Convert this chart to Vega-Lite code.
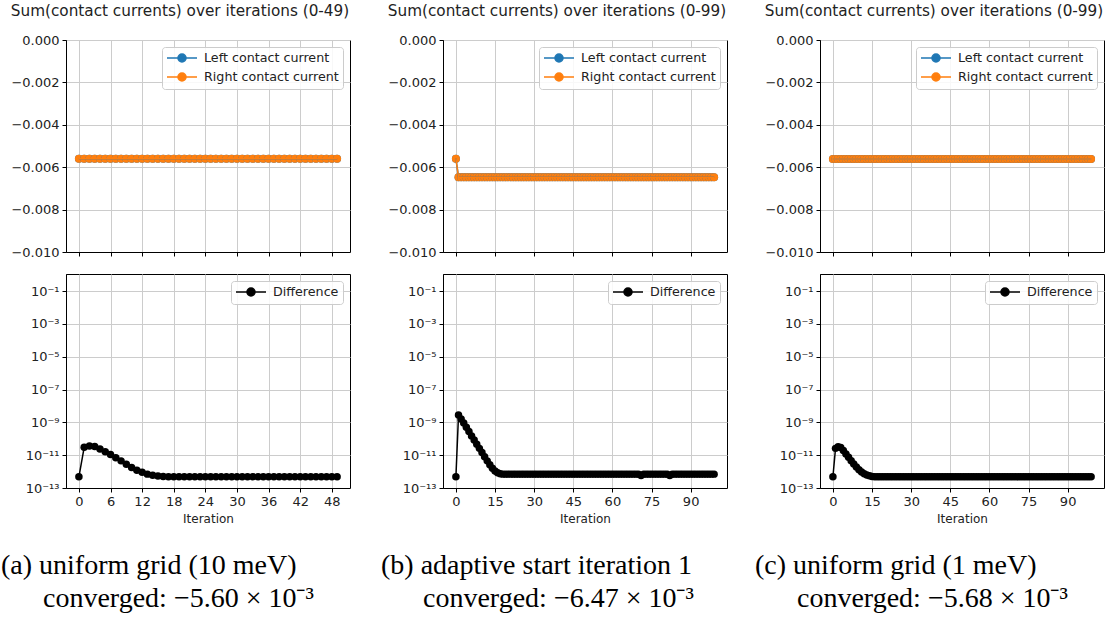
{
  "$schema": "https://vega.github.io/schema/vega-lite/v6.json",
  "padding": {"left": 0, "top": 3, "right": 5, "bottom": 0},
  "background": "white",
  "bounds": "flush",
  "columns": 3,
  "spacing": {"row": 22, "column": 93},
  "resolve": {"scale": {"x": "independent", "y": "independent", "color": "independent"}, "legend": {"color": "independent"}},
  "config": {
    "view": {"stroke": "black", "strokeWidth": 1},
    "axis": {"gridColor": "#cccccc", "gridWidth": 1, "domainColor": "black", "domainWidth": 1, "tickColor": "black", "tickSize": 4, "tickWidth": 1, "labelFont": "DejaVu Sans", "labelFontSize": 13, "labelColor": "#222", "labelPadding": 3, "titleFont": "DejaVu Sans", "titleFontSize": 12, "titleFontWeight": "normal", "titleColor": "#222", "titlePadding": 5},
    "legend": {"orient": "top-right", "offset": 7, "padding": 4, "fillColor": "rgba(255,255,255,0.85)", "strokeColor": "#cccccc", "cornerRadius": 3, "labelFont": "DejaVu Sans", "labelFontSize": 12.7, "labelColor": "#222", "symbolType": "M-2.5,0H2.5M-0.67,0A0.67,0.67,0,1,0,0.67,0A0.67,0.67,0,1,0,-0.67,0Z", "symbolSize": 144, "symbolStrokeWidth": 1.5, "symbolOffset": 9, "rowPadding": 3, "labelOffset": 15},
    "title": {"font": "DejaVu Sans", "fontSize": 15.25, "fontWeight": "normal", "color": "#222"}
  },
  "datasets": {
    "a": [
      {"i":0,"L":-0.0056,"R":-0.0056,"d":4.8e-13},{"i":1,"L":-0.0056,"R":-0.0056,"d":3.0e-11},{"i":2,"L":-0.0056,"R":-0.0056,"d":3.6e-11},{"i":3,"L":-0.0056,"R":-0.0056,"d":3.4e-11},{"i":4,"L":-0.0056,"R":-0.0056,"d":2.4e-11},{"i":5,"L":-0.0056,"R":-0.0056,"d":1.6e-11},{"i":6,"L":-0.0056,"R":-0.0056,"d":1.1e-11},{"i":7,"L":-0.0056,"R":-0.0056,"d":7e-12},{"i":8,"L":-0.0056,"R":-0.0056,"d":4.5e-12},{"i":9,"L":-0.0056,"R":-0.0056,"d":2.8e-12},
      {"i":10,"L":-0.0056,"R":-0.0056,"d":1.8e-12},{"i":11,"L":-0.0056,"R":-0.0056,"d":1.2e-12},{"i":12,"L":-0.0056,"R":-0.0056,"d":9e-13},{"i":13,"L":-0.0056,"R":-0.0056,"d":7e-13},{"i":14,"L":-0.0056,"R":-0.0056,"d":6e-13},{"i":15,"L":-0.0056,"R":-0.0056,"d":5.4e-13},{"i":16,"L":-0.0056,"R":-0.0056,"d":5e-13},{"i":17,"L":-0.0056,"R":-0.0056,"d":4.8e-13},{"i":18,"L":-0.0056,"R":-0.0056,"d":4.8e-13},{"i":19,"L":-0.0056,"R":-0.0056,"d":4.8e-13},
      {"i":20,"L":-0.0056,"R":-0.0056,"d":4.8e-13},{"i":21,"L":-0.0056,"R":-0.0056,"d":4.8e-13},{"i":22,"L":-0.0056,"R":-0.0056,"d":4.8e-13},{"i":23,"L":-0.0056,"R":-0.0056,"d":4.8e-13},{"i":24,"L":-0.0056,"R":-0.0056,"d":4.8e-13},{"i":25,"L":-0.0056,"R":-0.0056,"d":4.8e-13},{"i":26,"L":-0.0056,"R":-0.0056,"d":4.8e-13},{"i":27,"L":-0.0056,"R":-0.0056,"d":4.8e-13},{"i":28,"L":-0.0056,"R":-0.0056,"d":4.8e-13},{"i":29,"L":-0.0056,"R":-0.0056,"d":4.8e-13},
      {"i":30,"L":-0.0056,"R":-0.0056,"d":4.8e-13},{"i":31,"L":-0.0056,"R":-0.0056,"d":4.8e-13},{"i":32,"L":-0.0056,"R":-0.0056,"d":4.8e-13},{"i":33,"L":-0.0056,"R":-0.0056,"d":4.8e-13},{"i":34,"L":-0.0056,"R":-0.0056,"d":4.8e-13},{"i":35,"L":-0.0056,"R":-0.0056,"d":4.8e-13},{"i":36,"L":-0.0056,"R":-0.0056,"d":4.8e-13},{"i":37,"L":-0.0056,"R":-0.0056,"d":4.8e-13},{"i":38,"L":-0.0056,"R":-0.0056,"d":4.8e-13},{"i":39,"L":-0.0056,"R":-0.0056,"d":4.8e-13},
      {"i":40,"L":-0.0056,"R":-0.0056,"d":4.8e-13},{"i":41,"L":-0.0056,"R":-0.0056,"d":4.8e-13},{"i":42,"L":-0.0056,"R":-0.0056,"d":4.8e-13},{"i":43,"L":-0.0056,"R":-0.0056,"d":4.8e-13},{"i":44,"L":-0.0056,"R":-0.0056,"d":4.8e-13},{"i":45,"L":-0.0056,"R":-0.0056,"d":4.8e-13},{"i":46,"L":-0.0056,"R":-0.0056,"d":4.8e-13},{"i":47,"L":-0.0056,"R":-0.0056,"d":4.8e-13},{"i":48,"L":-0.0056,"R":-0.0056,"d":4.8e-13},{"i":49,"L":-0.0056,"R":-0.0056,"d":4.8e-13}
    ],
    "b": [
      {"i":0,"L":-0.0056,"R":-0.0056,"d":4.8e-13},{"i":1,"L":-0.00647,"R":-0.00647,"d":2.8e-9},{"i":2,"L":-0.00647,"R":-0.00647,"d":1.6e-9},{"i":3,"L":-0.00647,"R":-0.00647,"d":9e-10},{"i":4,"L":-0.00647,"R":-0.00647,"d":5e-10},{"i":5,"L":-0.00647,"R":-0.00647,"d":2.8e-10},{"i":6,"L":-0.00647,"R":-0.00647,"d":1.5e-10},{"i":7,"L":-0.00647,"R":-0.00647,"d":8.5e-11},{"i":8,"L":-0.00647,"R":-0.00647,"d":4.7e-11},{"i":9,"L":-0.00647,"R":-0.00647,"d":2.6e-11},
      {"i":10,"L":-0.00647,"R":-0.00647,"d":1.45e-11},{"i":11,"L":-0.00647,"R":-0.00647,"d":8e-12},{"i":12,"L":-0.00647,"R":-0.00647,"d":4.5e-12},{"i":13,"L":-0.00647,"R":-0.00647,"d":2.6e-12},{"i":14,"L":-0.00647,"R":-0.00647,"d":1.6e-12},{"i":15,"L":-0.00647,"R":-0.00647,"d":1.1e-12},{"i":16,"L":-0.00647,"R":-0.00647,"d":8.5e-13},{"i":17,"L":-0.00647,"R":-0.00647,"d":7.5e-13},{"i":18,"L":-0.00647,"R":-0.00647,"d":7e-13},{"i":19,"L":-0.00647,"R":-0.00647,"d":7e-13},
      {"i":20,"L":-0.00647,"R":-0.00647,"d":7e-13},{"i":21,"L":-0.00647,"R":-0.00647,"d":7e-13},{"i":22,"L":-0.00647,"R":-0.00647,"d":7e-13},{"i":23,"L":-0.00647,"R":-0.00647,"d":7e-13},{"i":24,"L":-0.00647,"R":-0.00647,"d":7e-13},{"i":25,"L":-0.00647,"R":-0.00647,"d":7e-13},{"i":26,"L":-0.00647,"R":-0.00647,"d":7e-13},{"i":27,"L":-0.00647,"R":-0.00647,"d":7e-13},{"i":28,"L":-0.00647,"R":-0.00647,"d":7e-13},{"i":29,"L":-0.00647,"R":-0.00647,"d":7e-13},
      {"i":30,"L":-0.00647,"R":-0.00647,"d":7e-13},{"i":31,"L":-0.00647,"R":-0.00647,"d":7e-13},{"i":32,"L":-0.00647,"R":-0.00647,"d":7e-13},{"i":33,"L":-0.00647,"R":-0.00647,"d":7e-13},{"i":34,"L":-0.00647,"R":-0.00647,"d":7e-13},{"i":35,"L":-0.00647,"R":-0.00647,"d":7e-13},{"i":36,"L":-0.00647,"R":-0.00647,"d":7e-13},{"i":37,"L":-0.00647,"R":-0.00647,"d":7e-13},{"i":38,"L":-0.00647,"R":-0.00647,"d":7e-13},{"i":39,"L":-0.00647,"R":-0.00647,"d":7e-13},
      {"i":40,"L":-0.00647,"R":-0.00647,"d":7e-13},{"i":41,"L":-0.00647,"R":-0.00647,"d":7e-13},{"i":42,"L":-0.00647,"R":-0.00647,"d":7e-13},{"i":43,"L":-0.00647,"R":-0.00647,"d":7e-13},{"i":44,"L":-0.00647,"R":-0.00647,"d":7e-13},{"i":45,"L":-0.00647,"R":-0.00647,"d":7e-13},{"i":46,"L":-0.00647,"R":-0.00647,"d":7e-13},{"i":47,"L":-0.00647,"R":-0.00647,"d":7e-13},{"i":48,"L":-0.00647,"R":-0.00647,"d":7e-13},{"i":49,"L":-0.00647,"R":-0.00647,"d":7e-13},
      {"i":50,"L":-0.00647,"R":-0.00647,"d":7e-13},{"i":51,"L":-0.00647,"R":-0.00647,"d":7e-13},{"i":52,"L":-0.00647,"R":-0.00647,"d":7e-13},{"i":53,"L":-0.00647,"R":-0.00647,"d":7e-13},{"i":54,"L":-0.00647,"R":-0.00647,"d":7e-13},{"i":55,"L":-0.00647,"R":-0.00647,"d":7e-13},{"i":56,"L":-0.00647,"R":-0.00647,"d":7e-13},{"i":57,"L":-0.00647,"R":-0.00647,"d":7e-13},{"i":58,"L":-0.00647,"R":-0.00647,"d":7e-13},{"i":59,"L":-0.00647,"R":-0.00647,"d":7e-13},
      {"i":60,"L":-0.00647,"R":-0.00647,"d":7e-13},{"i":61,"L":-0.00647,"R":-0.00647,"d":7e-13},{"i":62,"L":-0.00647,"R":-0.00647,"d":7e-13},{"i":63,"L":-0.00647,"R":-0.00647,"d":7e-13},{"i":64,"L":-0.00647,"R":-0.00647,"d":7e-13},{"i":65,"L":-0.00647,"R":-0.00647,"d":7e-13},{"i":66,"L":-0.00647,"R":-0.00647,"d":7e-13},{"i":67,"L":-0.00647,"R":-0.00647,"d":7e-13},{"i":68,"L":-0.00647,"R":-0.00647,"d":7e-13},{"i":69,"L":-0.00647,"R":-0.00647,"d":7e-13},
      {"i":70,"L":-0.00647,"R":-0.00647,"d":7e-13},{"i":71,"L":-0.00647,"R":-0.00647,"d":5.8e-13},{"i":72,"L":-0.00647,"R":-0.00647,"d":7e-13},{"i":73,"L":-0.00647,"R":-0.00647,"d":7e-13},{"i":74,"L":-0.00647,"R":-0.00647,"d":7e-13},{"i":75,"L":-0.00647,"R":-0.00647,"d":7e-13},{"i":76,"L":-0.00647,"R":-0.00647,"d":7e-13},{"i":77,"L":-0.00647,"R":-0.00647,"d":7e-13},{"i":78,"L":-0.00647,"R":-0.00647,"d":7e-13},{"i":79,"L":-0.00647,"R":-0.00647,"d":7e-13},
      {"i":80,"L":-0.00647,"R":-0.00647,"d":7e-13},{"i":81,"L":-0.00647,"R":-0.00647,"d":7e-13},{"i":82,"L":-0.00647,"R":-0.00647,"d":5.8e-13},{"i":83,"L":-0.00647,"R":-0.00647,"d":7e-13},{"i":84,"L":-0.00647,"R":-0.00647,"d":7e-13},{"i":85,"L":-0.00647,"R":-0.00647,"d":7e-13},{"i":86,"L":-0.00647,"R":-0.00647,"d":7e-13},{"i":87,"L":-0.00647,"R":-0.00647,"d":7e-13},{"i":88,"L":-0.00647,"R":-0.00647,"d":7e-13},{"i":89,"L":-0.00647,"R":-0.00647,"d":7e-13},
      {"i":90,"L":-0.00647,"R":-0.00647,"d":7e-13},{"i":91,"L":-0.00647,"R":-0.00647,"d":7e-13},{"i":92,"L":-0.00647,"R":-0.00647,"d":7e-13},{"i":93,"L":-0.00647,"R":-0.00647,"d":7e-13},{"i":94,"L":-0.00647,"R":-0.00647,"d":7e-13},{"i":95,"L":-0.00647,"R":-0.00647,"d":7e-13},{"i":96,"L":-0.00647,"R":-0.00647,"d":7e-13},{"i":97,"L":-0.00647,"R":-0.00647,"d":7e-13},{"i":98,"L":-0.00647,"R":-0.00647,"d":7e-13},{"i":99,"L":-0.00647,"R":-0.00647,"d":7e-13}
    ],
    "c": [
      {"i":0,"L":-0.00561,"R":-0.00561,"d":4.8e-13},{"i":1,"L":-0.00561,"R":-0.00561,"d":2.6e-11},{"i":2,"L":-0.00561,"R":-0.00561,"d":3.3e-11},{"i":3,"L":-0.00561,"R":-0.00561,"d":2.9e-11},{"i":4,"L":-0.00561,"R":-0.00561,"d":1.9e-11},{"i":5,"L":-0.00561,"R":-0.00561,"d":1.2e-11},{"i":6,"L":-0.00561,"R":-0.00561,"d":7.5e-12},{"i":7,"L":-0.00561,"R":-0.00561,"d":4.6e-12},{"i":8,"L":-0.00561,"R":-0.00561,"d":2.9e-12},{"i":9,"L":-0.00561,"R":-0.00561,"d":1.9e-12},
      {"i":10,"L":-0.00561,"R":-0.00561,"d":1.3e-12},{"i":11,"L":-0.00561,"R":-0.00561,"d":9.5e-13},{"i":12,"L":-0.00561,"R":-0.00561,"d":7.5e-13},{"i":13,"L":-0.00561,"R":-0.00561,"d":6.2e-13},{"i":14,"L":-0.00561,"R":-0.00561,"d":5.5e-13},{"i":15,"L":-0.00561,"R":-0.00561,"d":5.1e-13},{"i":16,"L":-0.00561,"R":-0.00561,"d":4.8e-13},{"i":17,"L":-0.00561,"R":-0.00561,"d":4.8e-13},{"i":18,"L":-0.00561,"R":-0.00561,"d":4.8e-13},{"i":19,"L":-0.00561,"R":-0.00561,"d":4.8e-13},
      {"i":20,"L":-0.00561,"R":-0.00561,"d":4.8e-13},{"i":21,"L":-0.00561,"R":-0.00561,"d":4.8e-13},{"i":22,"L":-0.00561,"R":-0.00561,"d":4.8e-13},{"i":23,"L":-0.00561,"R":-0.00561,"d":4.8e-13},{"i":24,"L":-0.00561,"R":-0.00561,"d":4.8e-13},{"i":25,"L":-0.00561,"R":-0.00561,"d":4.8e-13},{"i":26,"L":-0.00561,"R":-0.00561,"d":4.8e-13},{"i":27,"L":-0.00561,"R":-0.00561,"d":4.8e-13},{"i":28,"L":-0.00561,"R":-0.00561,"d":4.8e-13},{"i":29,"L":-0.00561,"R":-0.00561,"d":4.8e-13},
      {"i":30,"L":-0.00561,"R":-0.00561,"d":4.8e-13},{"i":31,"L":-0.00561,"R":-0.00561,"d":4.8e-13},{"i":32,"L":-0.00561,"R":-0.00561,"d":4.8e-13},{"i":33,"L":-0.00561,"R":-0.00561,"d":4.8e-13},{"i":34,"L":-0.00561,"R":-0.00561,"d":4.8e-13},{"i":35,"L":-0.00561,"R":-0.00561,"d":4.8e-13},{"i":36,"L":-0.00561,"R":-0.00561,"d":4.8e-13},{"i":37,"L":-0.00561,"R":-0.00561,"d":4.8e-13},{"i":38,"L":-0.00561,"R":-0.00561,"d":4.8e-13},{"i":39,"L":-0.00561,"R":-0.00561,"d":4.8e-13},
      {"i":40,"L":-0.00561,"R":-0.00561,"d":4.8e-13},{"i":41,"L":-0.00561,"R":-0.00561,"d":4.8e-13},{"i":42,"L":-0.00561,"R":-0.00561,"d":4.8e-13},{"i":43,"L":-0.00561,"R":-0.00561,"d":4.8e-13},{"i":44,"L":-0.00561,"R":-0.00561,"d":4.8e-13},{"i":45,"L":-0.00561,"R":-0.00561,"d":4.8e-13},{"i":46,"L":-0.00561,"R":-0.00561,"d":4.8e-13},{"i":47,"L":-0.00561,"R":-0.00561,"d":4.8e-13},{"i":48,"L":-0.00561,"R":-0.00561,"d":4.8e-13},{"i":49,"L":-0.00561,"R":-0.00561,"d":4.8e-13},
      {"i":50,"L":-0.00561,"R":-0.00561,"d":4.8e-13},{"i":51,"L":-0.00561,"R":-0.00561,"d":4.8e-13},{"i":52,"L":-0.00561,"R":-0.00561,"d":4.8e-13},{"i":53,"L":-0.00561,"R":-0.00561,"d":4.8e-13},{"i":54,"L":-0.00561,"R":-0.00561,"d":4.8e-13},{"i":55,"L":-0.00561,"R":-0.00561,"d":4.8e-13},{"i":56,"L":-0.00561,"R":-0.00561,"d":4.8e-13},{"i":57,"L":-0.00561,"R":-0.00561,"d":4.8e-13},{"i":58,"L":-0.00561,"R":-0.00561,"d":4.8e-13},{"i":59,"L":-0.00561,"R":-0.00561,"d":4.8e-13},
      {"i":60,"L":-0.00561,"R":-0.00561,"d":4.8e-13},{"i":61,"L":-0.00561,"R":-0.00561,"d":4.8e-13},{"i":62,"L":-0.00561,"R":-0.00561,"d":4.8e-13},{"i":63,"L":-0.00561,"R":-0.00561,"d":4.8e-13},{"i":64,"L":-0.00561,"R":-0.00561,"d":4.8e-13},{"i":65,"L":-0.00561,"R":-0.00561,"d":4.8e-13},{"i":66,"L":-0.00561,"R":-0.00561,"d":4.8e-13},{"i":67,"L":-0.00561,"R":-0.00561,"d":4.8e-13},{"i":68,"L":-0.00561,"R":-0.00561,"d":4.8e-13},{"i":69,"L":-0.00561,"R":-0.00561,"d":4.8e-13},
      {"i":70,"L":-0.00561,"R":-0.00561,"d":4.8e-13},{"i":71,"L":-0.00561,"R":-0.00561,"d":4.8e-13},{"i":72,"L":-0.00561,"R":-0.00561,"d":4.8e-13},{"i":73,"L":-0.00561,"R":-0.00561,"d":4.8e-13},{"i":74,"L":-0.00561,"R":-0.00561,"d":4.8e-13},{"i":75,"L":-0.00561,"R":-0.00561,"d":4.8e-13},{"i":76,"L":-0.00561,"R":-0.00561,"d":4.8e-13},{"i":77,"L":-0.00561,"R":-0.00561,"d":4.8e-13},{"i":78,"L":-0.00561,"R":-0.00561,"d":4.8e-13},{"i":79,"L":-0.00561,"R":-0.00561,"d":4.8e-13},
      {"i":80,"L":-0.00561,"R":-0.00561,"d":4.8e-13},{"i":81,"L":-0.00561,"R":-0.00561,"d":4.8e-13},{"i":82,"L":-0.00561,"R":-0.00561,"d":4.8e-13},{"i":83,"L":-0.00561,"R":-0.00561,"d":4.8e-13},{"i":84,"L":-0.00561,"R":-0.00561,"d":4.8e-13},{"i":85,"L":-0.00561,"R":-0.00561,"d":4.8e-13},{"i":86,"L":-0.00561,"R":-0.00561,"d":4.8e-13},{"i":87,"L":-0.00561,"R":-0.00561,"d":4.8e-13},{"i":88,"L":-0.00561,"R":-0.00561,"d":4.8e-13},{"i":89,"L":-0.00561,"R":-0.00561,"d":4.8e-13},
      {"i":90,"L":-0.00561,"R":-0.00561,"d":4.8e-13},{"i":91,"L":-0.00561,"R":-0.00561,"d":4.8e-13},{"i":92,"L":-0.00561,"R":-0.00561,"d":4.8e-13},{"i":93,"L":-0.00561,"R":-0.00561,"d":4.8e-13},{"i":94,"L":-0.00561,"R":-0.00561,"d":4.8e-13},{"i":95,"L":-0.00561,"R":-0.00561,"d":4.8e-13},{"i":96,"L":-0.00561,"R":-0.00561,"d":4.8e-13},{"i":97,"L":-0.00561,"R":-0.00561,"d":4.8e-13},{"i":98,"L":-0.00561,"R":-0.00561,"d":4.8e-13},{"i":99,"L":-0.00561,"R":-0.00561,"d":4.8e-13}
    ]
  },
  "concat": [
    {
      "width": 284, "height": 212,
      "title": {"text": "Sum(contact currents) over iterations (0-49)", "anchor": "middle", "dx": -28, "offset": 15},
      "data": {"name": "a"},
      "transform": [{"fold": ["L", "R"], "as": ["s", "v"]}],
      "encoding": {
        "x": {"field": "i", "type": "quantitative", "scale": {"domain": [-2.45, 51.45], "nice": false, "zero": false}, "axis": {"values": [0, 6, 12, 18, 24, 30, 36, 42, 48], "labels": false, "title": null}},
        "y": {"field": "v", "type": "quantitative", "scale": {"domain": [-0.01, 0], "nice": false}, "axis": {"values": [-0.01, -0.008, -0.006, -0.004, -0.002, 0], "format": ".3f", "title": null}},
        "color": {"field": "s", "type": "nominal", "scale": {"domain": ["L", "R"], "range": ["#1f77b4", "#ff7f0e"]}, "legend": {"title": null, "labelExpr": "datum.label == 'L' ? 'Left contact current' : 'Right contact current'"}}
      },
      "layer": [
        {"mark": {"type": "point", "filled": true, "size": 64, "opacity": 1}},
        {"mark": {"type": "line", "strokeWidth": 1.5}}
      ]
    },
    {
      "width": 284, "height": 212,
      "title": {"text": "Sum(contact currents) over iterations (0-99)", "anchor": "middle", "dx": -28, "offset": 15},
      "data": {"name": "b"},
      "transform": [{"fold": ["L", "R"], "as": ["s", "v"]}],
      "encoding": {
        "x": {"field": "i", "type": "quantitative", "scale": {"domain": [-4.95, 103.95], "nice": false, "zero": false}, "axis": {"values": [0, 15, 30, 45, 60, 75, 90], "labels": false, "title": null}},
        "y": {"field": "v", "type": "quantitative", "scale": {"domain": [-0.01, 0], "nice": false}, "axis": {"values": [-0.01, -0.008, -0.006, -0.004, -0.002, 0], "format": ".3f", "title": null}},
        "color": {"field": "s", "type": "nominal", "scale": {"domain": ["L", "R"], "range": ["#1f77b4", "#ff7f0e"]}, "legend": {"title": null, "labelExpr": "datum.label == 'L' ? 'Left contact current' : 'Right contact current'"}}
      },
      "layer": [
        {"mark": {"type": "point", "filled": true, "size": 64, "opacity": 1}},
        {"mark": {"type": "line", "strokeWidth": 1.5}}
      ]
    },
    {
      "width": 284, "height": 212,
      "title": {"text": "Sum(contact currents) over iterations (0-99)", "anchor": "middle", "dx": -28, "offset": 15},
      "data": {"name": "c"},
      "transform": [{"fold": ["L", "R"], "as": ["s", "v"]}],
      "encoding": {
        "x": {"field": "i", "type": "quantitative", "scale": {"domain": [-4.95, 103.95], "nice": false, "zero": false}, "axis": {"values": [0, 15, 30, 45, 60, 75, 90], "labels": false, "title": null}},
        "y": {"field": "v", "type": "quantitative", "scale": {"domain": [-0.01, 0], "nice": false}, "axis": {"values": [-0.01, -0.008, -0.006, -0.004, -0.002, 0], "format": ".3f", "title": null}},
        "color": {"field": "s", "type": "nominal", "scale": {"domain": ["L", "R"], "range": ["#1f77b4", "#ff7f0e"]}, "legend": {"title": null, "labelExpr": "datum.label == 'L' ? 'Left contact current' : 'Right contact current'"}}
      },
      "layer": [
        {"mark": {"type": "point", "filled": true, "size": 64, "opacity": 1}},
        {"mark": {"type": "line", "strokeWidth": 1.5}}
      ]
    },
    {
      "width": 284, "height": 214,
      "title": {"text": ["(a) uniform grid (10 meV)", "\u200b\u00a0\u00a0\u00a0\u00a0\u00a0\u00a0converged: −5.60 × 10⁻³"], "orient": "bottom", "anchor": "start", "frame": "group", "dx": -65, "offset": 28, "font": "Liberation Serif", "fontSize": 28, "color": "black", "lineHeight": 33, "align": "left"},
      "data": {"name": "a"},
      "encoding": {
        "x": {"field": "i", "type": "quantitative", "scale": {"domain": [-2.45, 51.45], "nice": false, "zero": false}, "axis": {"values": [0, 6, 12, 18, 24, 30, 36, 42, 48], "title": "Iteration"}},
        "y": {"field": "d", "type": "quantitative", "scale": {"type": "log", "domain": [1e-13, 1.1], "nice": false}, "axis": {"values": [1e-13, 1e-11, 1e-9, 1e-7, 1e-5, 1e-3, 1e-1], "title": null, "labelExpr": "datum.value < 1e-12 ? '10⁻¹³' : datum.value < 1e-10 ? '10⁻¹¹' : datum.value < 1e-8 ? '10⁻⁹' : datum.value < 1e-6 ? '10⁻⁷' : datum.value < 1e-4 ? '10⁻⁵' : datum.value < 1e-2 ? '10⁻³' : '10⁻¹'"}},
        "color": {"datum": "Difference", "type": "nominal", "scale": {"range": ["black"]}, "legend": {"title": null}}
      },
      "layer": [
        {"mark": {"type": "point", "filled": true, "size": 56, "opacity": 1}},
        {"mark": {"type": "line", "strokeWidth": 1.5}}
      ]
    },
    {
      "width": 284, "height": 214,
      "title": {"text": ["(b) adaptive start iteration 1", "\u200b\u00a0\u00a0\u00a0\u00a0\u00a0\u00a0converged: −6.47 × 10⁻³"], "orient": "bottom", "anchor": "start", "frame": "group", "dx": -62, "offset": 28, "font": "Liberation Serif", "fontSize": 28, "color": "black", "lineHeight": 33, "align": "left"},
      "data": {"name": "b"},
      "encoding": {
        "x": {"field": "i", "type": "quantitative", "scale": {"domain": [-4.95, 103.95], "nice": false, "zero": false}, "axis": {"values": [0, 15, 30, 45, 60, 75, 90], "title": "Iteration"}},
        "y": {"field": "d", "type": "quantitative", "scale": {"type": "log", "domain": [1e-13, 1.1], "nice": false}, "axis": {"values": [1e-13, 1e-11, 1e-9, 1e-7, 1e-5, 1e-3, 1e-1], "title": null, "labelExpr": "datum.value < 1e-12 ? '10⁻¹³' : datum.value < 1e-10 ? '10⁻¹¹' : datum.value < 1e-8 ? '10⁻⁹' : datum.value < 1e-6 ? '10⁻⁷' : datum.value < 1e-4 ? '10⁻⁵' : datum.value < 1e-2 ? '10⁻³' : '10⁻¹'"}},
        "color": {"datum": "Difference", "type": "nominal", "scale": {"range": ["black"]}, "legend": {"title": null}}
      },
      "layer": [
        {"mark": {"type": "point", "filled": true, "size": 56, "opacity": 1}},
        {"mark": {"type": "line", "strokeWidth": 1.5}}
      ]
    },
    {
      "width": 284, "height": 214,
      "title": {"text": ["(c) uniform grid (1 meV)", "\u200b\u00a0\u00a0\u00a0\u00a0\u00a0\u00a0converged: −5.68 × 10⁻³"], "orient": "bottom", "anchor": "start", "frame": "group", "dx": -65, "offset": 28, "font": "Liberation Serif", "fontSize": 28, "color": "black", "lineHeight": 33, "align": "left"},
      "data": {"name": "c"},
      "encoding": {
        "x": {"field": "i", "type": "quantitative", "scale": {"domain": [-4.95, 103.95], "nice": false, "zero": false}, "axis": {"values": [0, 15, 30, 45, 60, 75, 90], "title": "Iteration"}},
        "y": {"field": "d", "type": "quantitative", "scale": {"type": "log", "domain": [1e-13, 1.1], "nice": false}, "axis": {"values": [1e-13, 1e-11, 1e-9, 1e-7, 1e-5, 1e-3, 1e-1], "title": null, "labelExpr": "datum.value < 1e-12 ? '10⁻¹³' : datum.value < 1e-10 ? '10⁻¹¹' : datum.value < 1e-8 ? '10⁻⁹' : datum.value < 1e-6 ? '10⁻⁷' : datum.value < 1e-4 ? '10⁻⁵' : datum.value < 1e-2 ? '10⁻³' : '10⁻¹'"}},
        "color": {"datum": "Difference", "type": "nominal", "scale": {"range": ["black"]}, "legend": {"title": null}}
      },
      "layer": [
        {"mark": {"type": "point", "filled": true, "size": 56, "opacity": 1}},
        {"mark": {"type": "line", "strokeWidth": 1.5}}
      ]
    }
  ]
}
